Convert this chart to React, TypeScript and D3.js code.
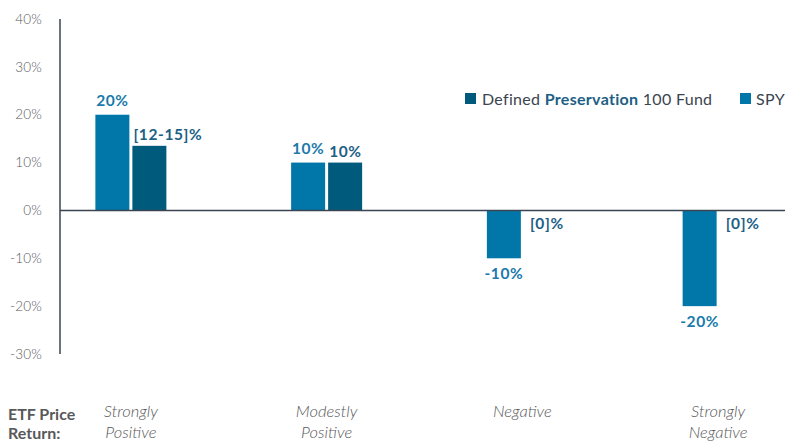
import React from "react";
import * as d3 from "d3";

// scenario data
const categories = ["Strongly Positive", "Modestly Positive", "Negative", "Strongly Negative"];
const spyValues = [20, 10, -10, -20];
const fundValues = [13.5, 10, 0, 0];
const spyLabels = ["20%", "10%", "-10%", "-20%"];
const fundLabels = ["[12-15]%", "10%", "[0]%", "[0]%"];
const yTicks = [40, 30, 20, 10, 0, -10, -20, -30];

const SPY_COLOR = "#0077a8";
const FUND_COLOR = "#005a7c";
const FONT = "Lato, 'Open Sans', sans-serif";

export default function App() {
  const width = 800, height = 442;
  const axisX = 60;

  const y = d3.scaleLinear().domain([-30, 40]).range([354, 19]);
  const x = d3.scaleBand<string>().domain(categories).range([33, 816]).padding(0);
  const barW = 34, gap = 3;
  const groupW = barW * 2 + gap;
  const spyX = (i: number) => (x(categories[i]) as number) + x.bandwidth() / 2 - groupW / 2;
  const fundX = (i: number) => spyX(i) + barW + gap;

  return (
    <svg width={width} height={height} style={{ position: "absolute", left: 0, top: 0, background: "#fff" }} fontFamily={FONT}>
      {/* y axis */}
      <line x1={axisX} x2={axisX} y1={y(40)} y2={y(-30)} stroke="#3b4450" strokeWidth={1.5} />
      {yTicks.map((t) => (
        <text key={t} x={42} y={y(t)} dy="0.35em" textAnchor="end" fontSize={13.5} fill="#58595b" fontWeight={300} letterSpacing={0.2}>
          {t}%
        </text>
      ))}

      {/* bars */}
      {spyValues.map((v, i) => (
        <rect key={"s" + i} x={spyX(i)} width={barW} y={y(Math.max(0, v))} height={Math.abs(y(v) - y(0))} fill={SPY_COLOR} />
      ))}
      {fundValues.map((v, i) =>
        v === 0 ? null : (
          <rect key={"f" + i} x={fundX(i)} width={barW} y={y(Math.max(0, v))} height={Math.abs(y(v) - y(0))} fill={FUND_COLOR} />
        )
      )}

      {/* zero line */}
      <line x1={axisX} x2={785} y1={y(0)} y2={y(0)} stroke="#3b4450" strokeWidth={1.5} />

      {/* value labels */}
      {spyValues.map((v, i) => (
        <text
          key={"sl" + i}
          x={spyX(i) + barW / 2}
          y={v >= 0 ? y(v) - 9 : y(v) + 21}
          textAnchor="middle"
          fontSize={15.5}
          fontWeight={700}
          letterSpacing={0.6}
          fill="#1a7aab"
        >
          {spyLabels[i]}
        </text>
      ))}
      {fundValues.map((v, i) => (
        <text
          key={"fl" + i}
          x={fundX(i) + (v === 0 ? 6 : 1)}
          y={v > 0 ? y(v) - 6 : y(0) + 19}
          textAnchor="start"
          fontSize={15.5}
          fontWeight={700}
          letterSpacing={0.6}
          fill="#1d6085"
        >
          {fundLabels[i]}
        </text>
      ))}

      {/* legend */}
      <rect x={465} y={93} width={11} height={11} fill={FUND_COLOR} />
      <text x={482} y={105} fontSize={16} letterSpacing={0.3} fill="#3b4450">
        Defined <tspan fill="#1d6085" fontWeight={700}>Preservation</tspan> 100 Fund
      </text>
      <rect x={740} y={93} width={11} height={11} fill={SPY_COLOR} />
      <text x={756} y={105} fontSize={16} letterSpacing={0.3} fill="#3b4450">SPY</text>

      {/* category labels */}
      <text x={8} y={420} fontSize={16} fontWeight={700} fill="#58595b">ETF Price</text>
      <text x={8} y={439} fontSize={16} fontWeight={700} fill="#58595b">Return:</text>
      {categories.map((c, i) => {
        const words = c.split(" ");
        const cx = (x(c) as number) + x.bandwidth() / 2;
        return (
          <text key={c} x={cx} y={417} textAnchor="middle" fontSize={16.5} fontStyle="italic" fontWeight={300} fill="#58595b">
            {words.map((w, j) => (
              <tspan key={j} x={cx} dy={j === 0 ? 0 : 21}>{w}</tspan>
            ))}
          </text>
        );
      })}
    </svg>
  );
}
